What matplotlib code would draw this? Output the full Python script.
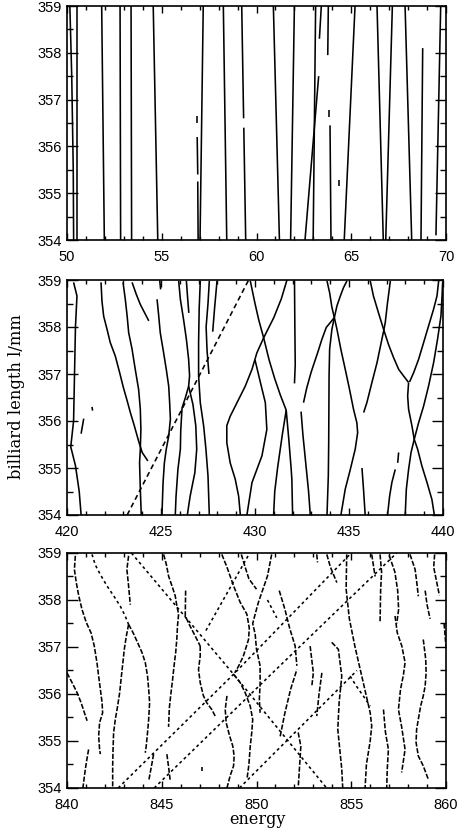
import matplotlib
matplotlib.use("Agg")
import matplotlib.pyplot as plt
from matplotlib.ticker import MultipleLocator

# ---------------- data (energy, billiard length) ----------------
panel1_xlim = (50, 70)
panel2_xlim = (420, 440)
panel3_xlim = (840, 860)
ylim = (354, 359)
panel1_xticks = [50, 55, 60, 65, 70]
panel2_xticks = [420, 425, 430, 435, 440]
panel3_xticks = [840, 845, 850, 855, 860]
yticks = [354, 355, 356, 357, 358, 359]

panel1_curves = [
    [(50.15, 359.0), (50.25, 357.5), (50.33, 355.5), (50.35, 354.0)],
    [(50.55, 359.0), (50.55, 354.0)],
    [(51.83, 359.0), (51.97, 354.0)],
    [(52.80, 359.0), (52.83, 354.0)],
    [(53.38, 359.0), (53.41, 354.0)],
    [(54.55, 359.0), (54.79, 354.0)],
    [(57.19, 359.0), (57.02, 354.0)],
    [(56.85, 356.65), (56.85, 356.5)],
    [(56.87, 356.2), (56.90, 355.4)],
    [(56.90, 355.25), (56.92, 354.0)],
    [(58.25, 359.0), (58.43, 354.0)],
    [(59.22, 359.0), (59.32, 356.6)],
    [(59.33, 356.4), (59.43, 354.0)],
    [(60.89, 359.0), (61.21, 354.0)],
    [(62.00, 359.0), (61.80, 354.0)],
    [(63.12, 359.0), (62.99, 354.0)],
    [(63.42, 359.0), (63.32, 358.3)],
    [(63.79, 359.0), (63.76, 357.95)],
    [(63.28, 357.5), (62.56, 354.0)],
    [(63.82, 356.78), (63.82, 356.62)],
    [(63.88, 356.45), (63.93, 354.0)],
    [(64.35, 355.28), (64.35, 355.15)],
    [(65.20, 359.0), (64.63, 354.0)],
    [(66.36, 359.0), (66.69, 354.0)],
    [(67.17, 359.0), (66.82, 354.0)],
    [(67.84, 359.0), (68.19, 354.0)],
    [(68.77, 358.1), (68.68, 354.0)],
    [(69.72, 359.0), (69.47, 354.1)],
]

panel2_curves = [
    [(420.35, 358.95), (420.53, 358.66), (420.45, 358.0), (420.40, 357.0), (420.35, 356.0),
     (420.20, 355.45), (420.45, 355.05), (420.65, 354.5), (420.75, 354.0)],
    [(420.89, 356.05), (420.75, 355.73)],
    [(421.33, 356.30), (421.36, 356.22)],
    [(421.81, 358.95), (421.86, 358.55), (421.95, 358.23), (422.13, 357.95), (422.30, 357.67),
     (422.57, 357.38), (422.80, 357.03), (423.00, 356.71), (423.20, 356.43), (423.37, 356.18),
     (423.58, 355.90), (423.81, 355.57), (424.00, 355.33), (424.30, 355.15)],
    [(422.98, 358.95), (423.10, 358.59), (423.20, 358.23), (423.28, 357.88), (423.46, 357.53),
     (423.63, 357.10), (423.81, 356.67), (423.90, 356.25), (423.93, 355.82), (423.90, 355.40),
     (423.86, 355.11), (423.90, 354.55), (423.95, 354.0)],
    [(423.46, 358.95), (423.69, 358.69), (423.90, 358.48), (424.17, 358.27), (424.35, 358.13)],
    [(424.93, 359.0), (424.98, 358.8)],
    [(424.79, 358.59), (424.88, 358.23), (424.96, 357.88), (425.14, 357.45), (425.28, 357.10),
     (425.41, 356.74), (425.46, 356.39), (425.50, 356.04), (425.41, 355.68), (425.28, 355.40),
     (425.18, 355.11), (425.11, 354.69), (425.05, 354.0)],
    [(423.20, 354.0), (426.50, 356.55), (429.66, 359.0)],
    [(425.94, 358.98), (426.03, 358.59), (426.20, 358.16), (426.35, 357.74), (426.47, 357.31),
     (426.52, 356.96), (426.47, 356.74), (426.30, 356.50), (426.12, 356.28), (426.05, 355.80),
     (426.03, 355.40), (425.90, 354.97), (425.80, 354.40), (425.76, 354.0)],
    [(426.47, 356.74), (426.70, 356.35), (426.85, 355.90), (426.90, 355.40), (426.80, 354.90),
     (426.55, 354.40), (426.40, 354.0)],
    [(426.35, 358.98), (426.42, 358.60), (426.48, 358.30)],
    [(427.09, 358.98), (427.03, 358.38), (427.00, 357.67), (427.00, 356.96), (427.09, 356.39),
     (427.27, 355.89), (427.39, 355.40), (427.50, 354.83), (427.57, 354.0)],
    [(427.57, 358.98), (427.50, 358.50), (427.40, 358.00), (427.45, 357.50), (427.55, 357.00)],
    [(427.98, 358.98), (427.85, 358.40), (427.75, 357.90)],
    [(429.75, 358.98), (430.00, 358.50), (430.20, 358.15), (430.46, 357.77), (430.75, 357.30),
     (431.05, 356.90), (431.35, 356.55), (431.66, 356.23), (431.80, 355.60), (431.92, 355.00),
     (431.96, 354.76), (432.00, 354.0)],
    [(431.70, 359.0), (431.40, 358.60), (431.00, 358.20), (430.46, 357.77), (430.10, 357.45),
     (429.84, 357.10), (429.48, 356.74), (429.13, 356.46), (428.68, 356.10), (428.50, 355.90),
     (428.50, 355.54), (428.68, 355.11), (428.95, 354.76), (429.13, 354.40), (429.22, 354.0)],
    [(430.00, 357.30), (430.30, 356.80), (430.55, 356.39), (430.63, 355.82), (430.37, 355.26),
     (429.84, 354.69), (429.57, 354.0)],
    [(431.66, 356.23), (431.45, 355.70), (431.20, 355.00), (431.05, 354.50), (430.99, 354.0)],
    [(432.10, 359.0), (432.12, 358.0), (432.14, 357.2), (432.10, 356.8)],
    [(432.45, 356.20), (432.55, 355.70), (432.70, 355.10), (432.85, 354.50), (432.94, 354.0)],
    [(433.83, 358.98), (433.97, 358.73), (434.09, 358.42), (434.22, 358.20)],
    [(434.89, 358.98), (434.71, 358.84), (434.54, 358.66), (434.36, 358.45), (434.22, 358.20)],
    [(434.22, 358.20), (433.79, 357.99), (433.56, 357.74), (433.33, 357.45), (433.12, 357.20),
     (432.98, 357.03), (432.75, 356.70), (432.58, 356.39)],
    [(434.22, 358.20), (434.09, 357.95), (433.97, 357.53), (433.94, 356.96), (433.93, 356.25),
     (433.92, 355.54), (433.90, 354.83), (433.83, 354.0)],
    [(434.22, 358.20), (434.36, 357.95), (434.57, 357.52), (434.80, 357.10), (435.03, 356.67),
     (435.24, 356.25), (435.42, 355.96), (435.46, 355.75), (435.33, 355.40), (435.07, 354.97),
     (434.80, 354.55), (434.57, 354.0)],
    [(435.69, 355.00), (435.78, 354.50), (435.86, 354.0)],
    [(436.13, 358.98), (436.30, 358.66), (436.57, 358.30), (436.84, 357.95), (437.10, 357.63),
     (437.37, 357.35), (437.64, 357.10), (437.90, 356.96), (438.17, 356.82)],
    [(437.20, 358.98), (437.05, 358.52), (436.93, 358.10), (436.84, 357.91), (436.75, 357.74),
     (436.49, 357.24), (436.22, 356.82), (435.95, 356.39), (435.78, 356.18)],
    [(438.17, 356.82), (438.12, 356.53), (438.17, 356.25), (438.35, 355.89), (438.47, 355.61),
     (438.30, 355.33), (438.17, 354.97), (438.05, 354.55), (437.99, 354.0)],
    [(439.98, 358.95), (439.95, 358.66), (439.89, 358.23), (439.71, 357.74), (439.50, 357.24),
     (439.23, 356.74), (438.97, 356.32), (438.70, 355.96), (438.47, 355.61), (438.65, 355.40),
     (438.88, 355.04), (439.15, 354.69), (439.41, 354.33), (439.54, 354.0)],
    [(439.77, 358.98), (439.68, 358.66), (439.50, 358.38), (439.23, 358.02), (438.97, 357.67),
     (438.70, 357.31), (438.44, 357.03), (438.22, 356.83)],
    [(437.64, 355.33), (437.59, 355.11)],
    [(437.46, 354.97), (437.28, 354.69), (437.16, 354.40), (437.05, 354.0)],
]

panel3_curves = [
    [(840.44, 358.94), (840.39, 358.65), (840.49, 358.37), (840.62, 358.09), (840.79, 357.80),
     (841.02, 357.52), (841.27, 357.30), (841.44, 357.02), (841.58, 356.67), (841.67, 356.38),
     (841.76, 356.10), (841.85, 355.82), (841.88, 355.60), (841.72, 355.39), (841.67, 355.11),
     (841.72, 354.82), (841.76, 354.72)],
    [(840.00, 356.45), (840.27, 356.24), (840.53, 356.03), (840.74, 355.82), (840.92, 355.60),
     (841.06, 355.43)],
    [(841.14, 354.82), (841.02, 354.54), (840.92, 354.26), (840.84, 354.0)],
    [(841.32, 358.97), (841.49, 358.75), (841.76, 358.54), (842.11, 358.30), (842.46, 358.09),
     (842.81, 357.87), (843.07, 357.66), (843.25, 357.48)],
    [(843.25, 358.94), (843.16, 358.65), (843.25, 358.30), (843.34, 357.90)],
    [(843.25, 357.48), (843.13, 357.23), (843.02, 356.94), (842.95, 356.67), (842.87, 356.38),
     (842.78, 356.03), (842.67, 355.74), (842.55, 355.46), (842.46, 355.18), (842.43, 354.82),
     (842.41, 354.47), (842.41, 354.0)],
    [(843.25, 357.48), (843.48, 357.31), (843.73, 357.09), (843.96, 356.88), (844.13, 356.67),
     (844.25, 356.38), (844.31, 356.10), (844.36, 355.82), (844.31, 355.46), (844.25, 355.18),
     (844.18, 354.89), (844.13, 354.75)],
    [(844.57, 354.72), (844.45, 354.45), (844.31, 354.15)],
    [(845.27, 354.72), (845.36, 354.45), (845.45, 354.15)],
    [(845.10, 358.97), (845.24, 358.76), (845.36, 358.51), (845.54, 358.30), (845.71, 358.09),
     (845.80, 357.87), (845.89, 357.70), (845.83, 357.45), (845.80, 357.20), (845.74, 356.90),
     (845.65, 356.60), (845.57, 356.30), (845.48, 356.00), (845.40, 355.70), (845.36, 355.30)],
    [(846.26, 358.20), (846.24, 357.66), (846.50, 357.44), (846.77, 357.23), (847.03, 357.02)],
    [(847.03, 357.02), (847.03, 356.81), (846.94, 356.52), (847.03, 356.24), (847.20, 355.96),
     (847.38, 355.81), (847.64, 355.67), (847.82, 355.53)],
    [(847.12, 354.44), (847.12, 354.36)],
    [(843.40, 359.0), (848.79, 356.42), (853.70, 354.0)],
    [(842.70, 354.0), (848.79, 356.42), (855.00, 359.0)],
    [(844.60, 354.0), (850.72, 356.40), (857.40, 359.0)],
    [(849.10, 354.0), (855.30, 356.50)],
    [(847.33, 357.35), (849.60, 358.97)],
    [(848.17, 358.97), (848.44, 358.70), (848.79, 358.30), (849.14, 357.95), (849.49, 357.70),
     (849.62, 357.40), (849.58, 357.16), (849.30, 356.80), (849.05, 356.59), (848.85, 356.45)],
    [(850.80, 358.97), (850.58, 358.51), (850.28, 358.16), (850.10, 357.95), (849.93, 357.70),
     (849.80, 357.50), (849.93, 357.27), (850.00, 356.95), (850.19, 356.60), (850.19, 356.20),
     (850.15, 355.90), (850.19, 355.60)],
    [(849.20, 358.97), (849.40, 358.70), (849.60, 358.45), (850.00, 358.23)],
    [(850.58, 358.00), (851.07, 357.62)],
    [(851.20, 358.20), (851.50, 357.80), (851.75, 357.40), (852.04, 357.02), (852.13, 356.60)],
    [(848.44, 355.96), (848.35, 355.67), (848.40, 355.39), (848.58, 355.11), (848.75, 354.89),
     (848.82, 354.68), (848.79, 354.47), (848.61, 354.26), (848.44, 354.0)],
    [(848.79, 356.42), (849.14, 356.24), (849.40, 356.03), (849.67, 355.74), (849.80, 355.46),
     (849.75, 355.18), (849.67, 354.89), (849.60, 354.50), (849.50, 354.2)],
    [(851.25, 355.10), (851.50, 355.60), (851.80, 356.10), (852.13, 356.52)],
    [(852.20, 355.18), (852.34, 354.89), (852.20, 354.0)],
    [(852.83, 357.02), (853.00, 356.45), (852.92, 356.17)],
    [(853.45, 356.45), (853.30, 356.00), (853.18, 355.53)],
    [(853.18, 358.97), (853.22, 358.80)],
    [(853.97, 357.10), (854.32, 356.95), (854.50, 356.38), (854.36, 355.82), (854.29, 355.25),
     (854.40, 354.80), (854.50, 354.40), (854.55, 354.0)],
    [(853.71, 358.97), (853.90, 358.70), (854.24, 358.37)],
    [(854.76, 358.97), (854.73, 358.23), (854.90, 357.60), (855.20, 357.00), (855.55, 356.39),
     (856.00, 355.60), (856.08, 355.32), (856.00, 355.00), (855.80, 354.50), (855.73, 354.0)],
    [(854.94, 356.38), (855.30, 356.15), (855.65, 355.95), (856.00, 355.74)],
    [(856.08, 358.97), (856.26, 358.50)],
    [(856.52, 358.97), (856.60, 358.60), (856.55, 358.20), (856.52, 357.52)],
    [(857.00, 358.95), (857.30, 358.60), (857.45, 358.20), (857.50, 357.80), (857.40, 357.50)],
    [(857.31, 357.66), (857.43, 357.30), (857.67, 357.02), (857.84, 356.67), (857.75, 356.40),
     (857.60, 356.10), (857.49, 355.67), (857.66, 355.30), (857.84, 354.82), (857.66, 354.33)],
    [(856.70, 355.67), (856.80, 355.20), (856.96, 354.82), (856.90, 354.40), (856.87, 354.0)],
    [(858.10, 358.97), (858.37, 358.65), (858.45, 358.40), (858.54, 358.08)],
    [(858.80, 357.16), (858.93, 356.74), (858.95, 356.45), (858.90, 356.17), (858.80, 355.96),
     (858.66, 355.74), (858.54, 355.46), (858.45, 355.25), (858.42, 354.97), (858.54, 354.68),
     (858.80, 354.47), (859.07, 354.18)],
    [(858.90, 358.20), (859.00, 357.90), (859.16, 357.60)],
    [(859.40, 358.97), (859.35, 358.70), (859.50, 358.40), (859.65, 358.10)],
    [(859.90, 357.50), (860.00, 357.00)],
]

# ---------------- figure ----------------
W, H = 459, 831
fig = plt.figure(figsize=(W / 100, H / 100), dpi=100)
fig.patch.set_facecolor("white")

tick_font = "Liberation Sans"
label_font = "DejaVu Serif"

axes_px = [  # left, top, right, bottom in pixels
    (67, 6, 446, 240),
    (67, 280, 443, 515),
    (67, 553, 446, 788),
]
# styles: (steep-line style, diagonal-line style)
panel_styles = [
    ("-", "-"),
    ("-", (0, (3.2, 2.2))),
    ((0, (3.2, 1.1)), (0, (1.8, 1.9))),
]
panels = [
    (panel1_curves, panel1_xlim, panel1_xticks),
    (panel2_curves, panel2_xlim, panel2_xticks),
    (panel3_curves, panel3_xlim, panel3_xticks),
]

for (l, t, r, b), (curves, xl, xt), (st_steep, st_diag) in zip(axes_px, panels, panel_styles):
    ax = fig.add_axes([l / W, 1 - b / H, (r - l) / W, (b - t) / H])
    pxx = (r - l) / (xl[1] - xl[0])
    pxy = (b - t) / (ylim[1] - ylim[0])
    for c in curves:
        xs = [p[0] for p in c]
        ys = [p[1] for p in c]
        dx = abs(xs[-1] - xs[0]) * pxx
        dy = abs(ys[-1] - ys[0]) * pxy
        diag = dx > 0.45 * max(dy, 1e-9)
        ls = st_diag if diag else st_steep
        ax.plot(xs, ys, color="black", lw=1.15, ls=ls, solid_capstyle="butt",
                dash_capstyle="butt")
    ax.set_xlim(*xl)
    ax.set_ylim(*ylim)
    ax.set_xticks(xt)
    ax.set_yticks(yticks)
    ax.xaxis.set_minor_locator(MultipleLocator(1))
    ax.yaxis.set_minor_locator(MultipleLocator(0.5))
    ax.tick_params(which="both", direction="in", top=True, right=True, width=1.0,
                   colors="black", labelsize=10.5)
    ax.tick_params(axis="y", which="major", length=8, pad=4)
    ax.tick_params(axis="y", which="minor", length=4)
    ax.tick_params(axis="x", which="major", length=5, pad=7)
    ax.tick_params(axis="x", which="minor", length=3)
    for lab in ax.get_xticklabels() + ax.get_yticklabels():
        lab.set_fontfamily(tick_font)
    for s in ax.spines.values():
        s.set_linewidth(1.2)

fig.text(17 / W, 1 - 397 / H, "billiard length l/mm", rotation=90, ha="center", va="center",
         fontsize=11.8, family=label_font)
fig.text(257 / W, 1 - 819 / H, "energy", ha="center", va="center", fontsize=11.5,
         family=label_font)

fig.savefig("out.png", dpi=100, facecolor="white")
